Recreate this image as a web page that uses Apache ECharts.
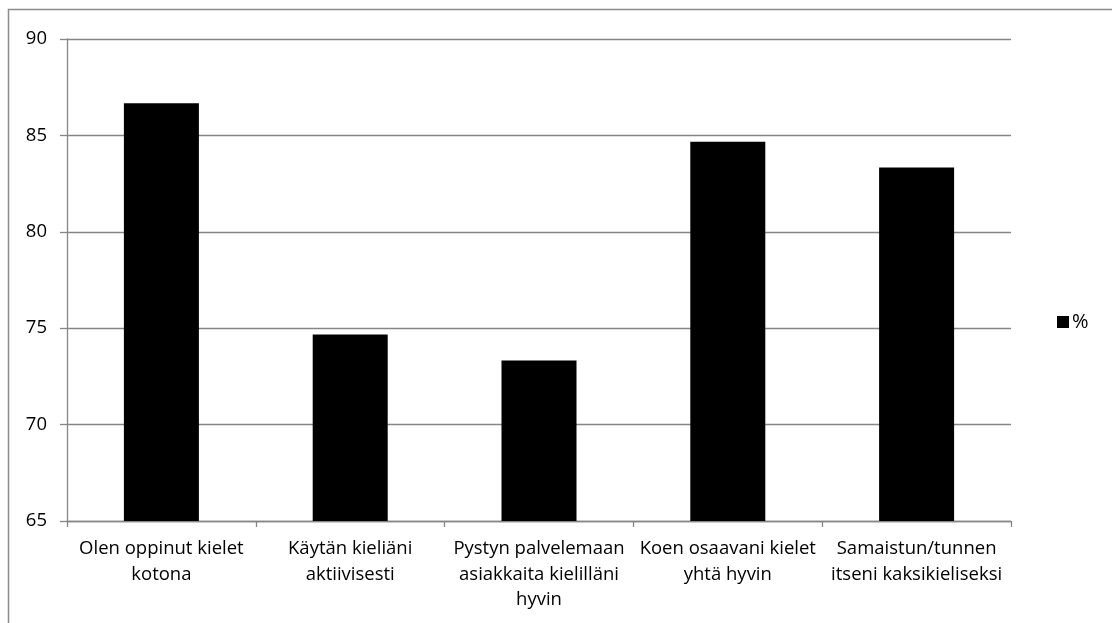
<!DOCTYPE html>
<html>
<head>
<meta charset="utf-8">
<script src="https://cdn.jsdelivr.net/npm/echarts@6/dist/echarts.min.js"></script>
<style>
html,body{margin:0;padding:0;background:#fff;}
#chart{width:1112px;height:623px;}
</style>
</head>
<body>
<div id="chart"></div>
<script>
const categories = [
  "Olen oppinut kielet\nkotona",
  "Käytän kieliäni\naktiivisesti",
  "Pystyn palvelemaan\nasiakkaita kielilläni\nhyvin",
  "Koen osaavani kielet\nyhtä hyvin",
  "Samaistun/tunnen\nitseni kaksikieliseksi"
];
const seriesName = "%";
const values = [86.67, 74.67, 73.33, 84.67, 83.33];
const yMin = 65, yMax = 90, yStep = 5;

const font = "'Open Sans', 'Noto Sans', sans-serif";
const gray = "#868686";

const chart = echarts.init(document.getElementById('chart'), null, {renderer: 'canvas'});
chart.setOption({
  animation: false,
  backgroundColor: '#fff',
  graphic: [{
    type: 'rect',
    shape: {x: 8.5, y: 9.5, width: 1200, height: 700},
    style: {fill: 'none', stroke: '#8c8c8c', lineWidth: 1.5},
    silent: true
  }],
  grid: {left: 67, right: 101, top: 39, bottom: 102, containLabel: false},
  legend: {
    data: [seriesName],
    orient: 'vertical',
    left: 1052,
    top: 307,
    itemWidth: 12,
    itemHeight: 12,
    itemGap: 5,
    icon: 'rect',
    textStyle: {fontFamily: font, fontSize: 20, color: '#000', padding: [0, 0, 0, -2]}
  },
  xAxis: {
    type: 'category',
    data: categories,
    axisLine: {lineStyle: {color: gray, width: 1.3}},
    axisTick: {show: true, alignWithLabel: false, length: 6, lineStyle: {color: gray, width: 1.3}},
    axisLabel: {
      interval: 0,
      fontFamily: font, fontSize: 18.5, color: '#000',
      lineHeight: 25.5, margin: 15
    }
  },
  yAxis: {
    type: 'value',
    min: yMin, max: yMax, interval: yStep,
    axisLine: {show: true, lineStyle: {color: gray, width: 1.3}},
    axisTick: {show: true, length: 7, lineStyle: {color: gray, width: 1.3}},
    splitLine: {show: true, lineStyle: {color: gray, width: 1.3}},
    axisLabel: {fontFamily: font, fontSize: 18.5, color: '#000', margin: 20}
  },
  series: [{
    name: seriesName,
    type: 'bar',
    data: values,
    barWidth: 75,
    itemStyle: {color: '#000'}
  }]
});
</script>
</body>
</html>
